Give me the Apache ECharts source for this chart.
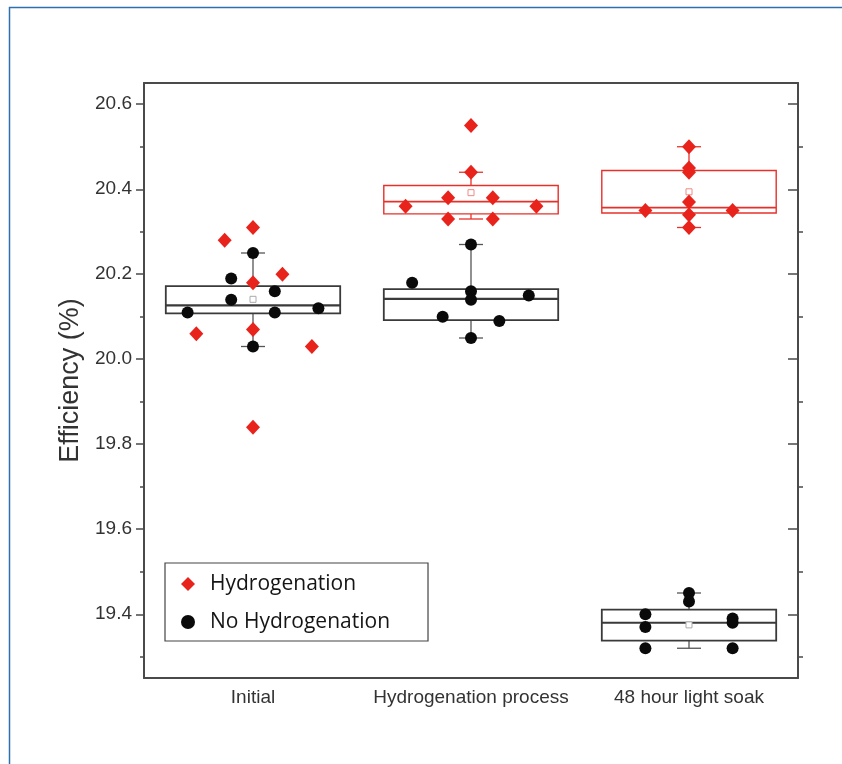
<!DOCTYPE html>
<html>
<head>
<meta charset="utf-8">
<script src="https://cdn.jsdelivr.net/npm/echarts@6/dist/echarts.min.js"></script>
<style>html,body{margin:0;padding:0;background:#fff;}#chart{width:842px;height:764px;}</style>
</head>
<body>
<div id="chart"></div>
<script>
// ---- data ----
var categories = ['Initial', 'Hydrogenation process', '48 hour light soak'];

var hydroValues = [
  [20.31, 20.28, 20.20, 20.18, 20.06, 20.07, 20.03, 19.84],
  [20.55, 20.44, 20.38, 20.38, 20.36, 20.36, 20.33, 20.33],
  [20.50, 20.45, 20.44, 20.37, 20.35, 20.35, 20.34, 20.31]
];
// horizontal jitter of each point inside its category (category units)
var hydroJitter = [
  [0, -0.13, 0.135, 0, -0.26, 0, 0.27, 0],
  [0, 0, -0.105, 0.10, -0.30, 0.30, -0.105, 0.10],
  [0, 0, 0, 0, -0.2, 0.2, 0, 0]
];
var noHydroValues = [
  [20.25, 20.19, 20.16, 20.14, 20.11, 20.11, 20.12, 20.03],
  [20.27, 20.18, 20.16, 20.14, 20.15, 20.10, 20.09, 20.05],
  [19.45, 19.43, 19.40, 19.37, 19.39, 19.38, 19.32, 19.32]
];
var noHydroJitter = [
  [0, -0.10, 0.10, -0.10, -0.30, 0.10, 0.30, 0],
  [0, -0.27, 0, 0, 0.265, -0.13, 0.13, 0],
  [0, 0, -0.2, -0.2, 0.2, 0.2, -0.2, 0.2]
];
// box statistics: [category, whiskerLow, Q1, median, Q3, whiskerHigh, mean]
var hydroBoxes = [
  [1, 20.33, 20.342, 20.371, 20.409, 20.44, 20.392],
  [2, 20.31, 20.344, 20.357, 20.444, 20.50, 20.394]
];
var noHydroBoxes = [
  [0, 20.03, 20.108, 20.127, 20.172, 20.25, 20.141],
  [1, 20.05, 20.092, 20.142, 20.165, 20.27, 20.142],
  [2, 19.32, 19.338, 19.380, 19.411, 19.45, 19.375]
];
var yMajorTicks = [19.4, 19.6, 19.8, 20.0, 20.2, 20.4, 20.6];
var yMinorTicks = [19.3, 19.5, 19.7, 19.9, 20.1, 20.3, 20.5];
var yMin = 19.25, yMax = 20.65;

// ---- build ----
function pts(values, jitter) {
  var out = [];
  values.forEach(function (arr, i) {
    arr.forEach(function (v, j) { out.push([i + jitter[i][j], v]); });
  });
  return out;
}

function boxRenderer(color, lineW, medianW, meanColor, whiskerColor) {
  return function (params, api) {
    var cat = api.value(0);
    var lo = api.coord([cat, api.value(1)]);
    var q1 = api.coord([cat, api.value(2)]);
    var md = api.coord([cat, api.value(3)]);
    var q3 = api.coord([cat, api.value(4)]);
    var hi = api.coord([cat, api.value(5)]);
    var mn = api.coord([cat, api.value(6)]);
    var cx = md[0];
    var hw = api.size([0.8, 0])[0] / 2;
    var cap = 12;
    var ls = { stroke: whiskerColor, lineWidth: 1.3, fill: null };
    return {
      type: 'group',
      children: [
        { type: 'line', shape: { x1: cx, y1: q3[1], x2: cx, y2: hi[1] }, style: ls },
        { type: 'line', shape: { x1: cx, y1: q1[1], x2: cx, y2: lo[1] }, style: ls },
        { type: 'line', shape: { x1: cx - cap, y1: hi[1], x2: cx + cap, y2: hi[1] }, style: ls },
        { type: 'line', shape: { x1: cx - cap, y1: lo[1], x2: cx + cap, y2: lo[1] }, style: ls },
        { type: 'rect', shape: { x: cx - hw, y: q3[1], width: hw * 2, height: q1[1] - q3[1] },
          style: { stroke: color, lineWidth: lineW, fill: null } },
        { type: 'line', shape: { x1: cx - hw, y1: md[1], x2: cx + hw, y2: md[1] },
          style: { stroke: color, lineWidth: medianW } },
        { type: 'rect', shape: { x: cx - 3, y: mn[1] - 3, width: 6, height: 6 },
          style: { stroke: meanColor, lineWidth: 1, fill: '#fff' } }
      ]
    };
  };
}

var axisColor = '#4a4a4a';
var labelFont = 'Liberation Sans, Arial, sans-serif';

var option = {
  animation: false,
  backgroundColor: '#fff',
  grid: { left: 144, right: 44, top: 83, bottom: 86 },
  graphic: [
    { type: 'line', shape: { x1: 9.5, y1: 7, x2: 9.5, y2: 764 }, style: { stroke: '#2f6fae', lineWidth: 1.5 } },
    { type: 'line', shape: { x1: 9, y1: 7.5, x2: 842, y2: 7.5 }, style: { stroke: '#2f6fae', lineWidth: 1.5 } }
  ],
  legend: {
    orient: 'vertical',
    left: 165, top: 563,
    padding: [10, 38, 8, 16],
    itemGap: 16,
    itemWidth: 14, itemHeight: 14,
    borderColor: '#444', borderWidth: 1.2,
    textStyle: { fontFamily: 'Open Sans, sans-serif', fontSize: 21, color: '#151515', lineHeight: 22, padding: [0, 0, 0, 10] },
    data: ['Hydrogenation', 'No Hydrogenation']
  },
  xAxis: [
    {
      type: 'category', data: categories, position: 'bottom', boundaryGap: true,
      axisLine: { onZero: false, lineStyle: { color: axisColor, width: 2 } },
      axisTick: { alignWithLabel: true, inside: true, length: 9, lineStyle: { color: axisColor, width: 1.5 } },
      axisLabel: { interval: 0, hideOverlap: false, color: '#333', fontSize: 19, fontFamily: labelFont, margin: 10 },
      splitLine: { show: false }
    },
    { type: 'value', min: -0.5, max: 2.5, show: false, position: 'bottom' },
    {
      type: 'category', data: categories, position: 'top',
      axisLine: { onZero: false, lineStyle: { color: axisColor, width: 2 } },
      axisTick: { show: false }, axisLabel: { show: false }, splitLine: { show: false }
    }
  ],
  yAxis: [
    {
      type: 'value', min: yMin, max: yMax, position: 'left',
      name: 'Efficiency (%)', nameLocation: 'middle', nameGap: 58, nameRotate: 90,
      nameTextStyle: { fontSize: 27, color: '#333', fontFamily: labelFont },
      axisLine: { show: true, onZero: false, lineStyle: { color: axisColor, width: 2 } },
      axisTick: { show: true, length: 8, customValues: yMajorTicks, lineStyle: { color: axisColor, width: 1.5 } },
      axisLabel: { customValues: yMajorTicks, color: '#333', fontSize: 19, fontFamily: labelFont, margin: 12,
        formatter: function (v) { return v.toFixed(1); } },
      splitLine: { show: false }
    },
    {
      type: 'value', min: yMin, max: yMax, position: 'left',
      axisLine: { show: false, onZero: false },
      axisTick: { show: true, length: 4, customValues: yMinorTicks, lineStyle: { color: axisColor, width: 1.5 } },
      axisLabel: { show: false }, splitLine: { show: false }
    },
    {
      type: 'value', min: yMin, max: yMax, position: 'right',
      axisLine: { show: true, onZero: false, lineStyle: { color: axisColor, width: 2 } },
      axisTick: { show: true, inside: true, length: 10, customValues: yMajorTicks, lineStyle: { color: axisColor, width: 1.5 } },
      axisLabel: { show: false }, splitLine: { show: false }
    },
    {
      type: 'value', min: yMin, max: yMax, position: 'right',
      axisLine: { show: false, onZero: false },
      axisTick: { show: true, length: 5, customValues: yMinorTicks, lineStyle: { color: axisColor, width: 1.5 } },
      axisLabel: { show: false }, splitLine: { show: false }
    }
  ],
  series: [
    {
      name: 'No Hydrogenation box', type: 'custom', xAxisIndex: 1, yAxisIndex: 0, z: 2,
      renderItem: boxRenderer('#3a3a3a', 1.8, 2.2, '#aaa', '#555'),
      encode: { x: 0, y: [1, 2, 3, 4, 5, 6] },
      data: noHydroBoxes, silent: true
    },
    {
      name: 'Hydrogenation box', type: 'custom', xAxisIndex: 1, yAxisIndex: 0, z: 2,
      renderItem: boxRenderer('#e8302a', 1.4, 1.8, '#f08a86', '#e8302a'),
      encode: { x: 0, y: [1, 2, 3, 4, 5, 6] },
      data: hydroBoxes, silent: true
    },
    {
      name: 'No Hydrogenation', type: 'scatter', xAxisIndex: 1, yAxisIndex: 0, z: 3,
      symbol: 'circle', symbolSize: 12,
      itemStyle: { color: '#0a0a0a', opacity: 1 },
      data: pts(noHydroValues, noHydroJitter)
    },
    {
      name: 'Hydrogenation', type: 'scatter', xAxisIndex: 1, yAxisIndex: 0, z: 4,
      symbol: 'diamond', symbolSize: [14, 15],
      itemStyle: { color: '#e8231c', opacity: 1 },
      data: pts(hydroValues, hydroJitter)
    }
  ]
};

var chart = echarts.init(document.getElementById('chart'), null, { renderer: 'canvas' });
chart.setOption(option);
</script>
</body>
</html>
